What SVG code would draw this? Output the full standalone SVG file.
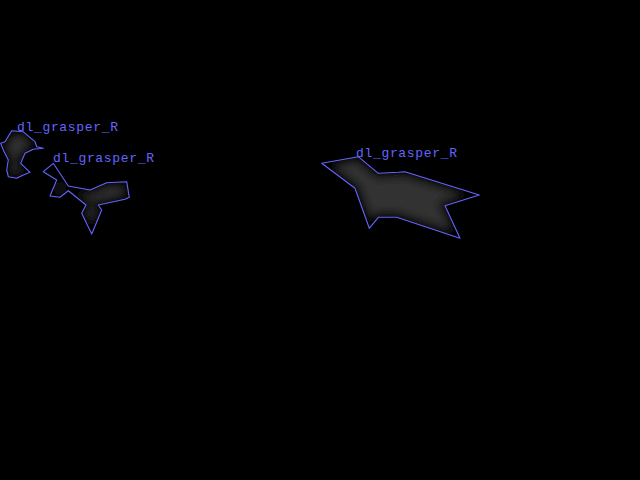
<svg xmlns="http://www.w3.org/2000/svg" width="640" height="480" viewBox="0 0 640 480">
<style>
.lbl{font-family:"Liberation Mono","DejaVu Sans Mono",monospace;font-size:13px;fill:#6464ff;}
.edge{fill:none;stroke:#6464ff;stroke-width:1.1;stroke-linejoin:round;}
.fillp{fill:#323232;stroke:#000;stroke-width:10;}
</style>
<defs>
<filter id="blur" x="-20%" y="-20%" width="140%" height="140%"><feGaussianBlur stdDeviation="4"/></filter>
<polygon id="p1" points="11.7,130.7 23,131.7 35,141.7 36.7,146.7 43.3,148.3 33.3,149.3 25,153.3 20.7,163.3 30,172.3 23.3,175 16.7,178.3 8.3,176.7 6.7,170 8.3,160 3.3,150 0.7,143.3 5,141.7"/>
<polygon id="p2" points="53.3,163.3 68.3,186 90,190 106.7,182.7 126.7,181.7 129.3,197.3 125,199.3 98.3,205 101.7,210 91.7,234 81.7,213.3 86,205 68.3,190.7 60,197.3 50,196 56.7,180 43.3,171.7"/>
<polygon id="p3" points="321.7,163.3 358.3,156.7 378.3,173.3 398.3,172.3 405,171.7 479.3,195 445,205.7 460,238.3 396.7,217.3 378.3,217.3 369.3,228.3 355,188.3"/>
<clipPath id="c1"><use href="#p1"/></clipPath>
<clipPath id="c2"><use href="#p2"/></clipPath>
<clipPath id="c3"><use href="#p3"/></clipPath>
</defs>
<rect x="0" y="0" width="640" height="480" fill="#000"/>
<g id="obj1">
<g clip-path="url(#c1)"><use href="#p1" class="fillp" filter="url(#blur)"/></g>
<use href="#p1" class="edge"/>
<text class="lbl" x="17" y="131" textLength="101">dl_grasper_R</text>
</g>
<g id="obj2">
<g clip-path="url(#c2)"><use href="#p2" class="fillp" filter="url(#blur)"/></g>
<use href="#p2" class="edge"/>
<text class="lbl" x="53" y="162" textLength="101">dl_grasper_R</text>
</g>
<g id="obj3">
<g clip-path="url(#c3)"><use href="#p3" class="fillp" filter="url(#blur)"/></g>
<use href="#p3" class="edge"/>
<text class="lbl" x="356" y="157" textLength="101">dl_grasper_R</text>
</g>
</svg>
